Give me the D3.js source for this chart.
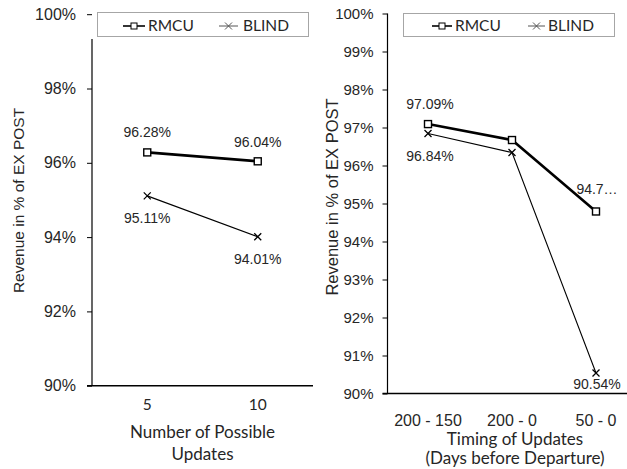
<!DOCTYPE html>
<html><head><meta charset="utf-8">
<script src="https://cdn.jsdelivr.net/npm/d3@7"></script>
<style>
html,body{margin:0;padding:0;background:#fff;}
svg{display:block;}
text{fill:#262626;}
</style></head>
<body><svg id="c" width="627" height="469"></svg>
<script>
// ---- data ----
const leftCategories = ["5", "10"];
const leftRMCU = [96.28, 96.04];
const leftBLIND = [95.11, 94.01];
const leftTicks = [90, 92, 94, 96, 98, 100];

const rightCategories = ["200 - 150", "200 - 0", "50 - 0"];
const rightRMCU = [97.09, 96.67, 94.79];
const rightBLIND = [96.84, 96.34, 90.54];
const rightTicks = [90, 91, 92, 93, 94, 95, 96, 97, 98, 99, 100];

const seriesNames = ["RMCU", "BLIND"];
const yTitle = "Revenue in % of EX POST";
const leftXTitle = ["Number of Possible", "Updates"];
const rightXTitle = ["Timing of Updates", "(Days before Departure)"];

// ---- drawing ----
const svg = d3.select("#c");
const ARIAL = "'Liberation Sans', Arial, sans-serif";
const CAL = "Lato, 'Open Sans', sans-serif";

function marker(g, type, x, y) {
  if (type === "RMCU") {
    g.append("rect").attr("x", x - 3.5).attr("y", y - 3.5).attr("width", 7).attr("height", 7)
      .attr("fill", "#fff").attr("stroke", "#000").attr("stroke-width", 1.4);
  } else {
    g.append("path").attr("d", `M${x-3.5},${y-3.5}L${x+3.5},${y+3.5}M${x-3.5},${y+3.5}L${x+3.5},${y-3.5}`)
      .attr("stroke", "#000").attr("stroke-width", 1.3);
  }
}

function legend(g, box, items) {
  g.append("rect").attr("x", box.x).attr("y", box.y).attr("width", box.w).attr("height", box.h)
    .attr("fill", "#fff").attr("stroke", "#a6a6a6").attr("stroke-width", 1);
  items.forEach(it => {
    g.append("line").attr("x1", it.x1).attr("x2", it.x2).attr("y1", box.cy).attr("y2", box.cy)
      .attr("stroke", it.name === seriesNames[0] ? "#000" : "#555").attr("stroke-width", it.name === seriesNames[0] ? 1.6 : 1);
    if (it.name === seriesNames[0]) {
      g.append("rect").attr("x", (it.x1+it.x2)/2 - 3).attr("y", box.cy - 3).attr("width", 6).attr("height", 6)
        .attr("fill", "#fff").attr("stroke", "#000").attr("stroke-width", 1);
    } else {
      const x = (it.x1+it.x2)/2, y = box.cy;
      g.append("path").attr("d", `M${x-3.5},${y-3.5}L${x+3.5},${y+3.5}M${x-3.5},${y+3.5}L${x+3.5},${y-3.5}`)
        .attr("stroke", "#555").attr("stroke-width", 1);
    }
    g.append("text").attr("x", it.tx).attr("y", box.cy).attr("dy", "0.35em")
      .attr("font-family", CAL).attr("font-size", 15.5).text(it.name);
  });
}

function panel(cfg) {
  const g = svg.append("g");
  const x = d3.scaleBand().domain(cfg.cats).range(cfg.xRange).padding(0);
  const y = d3.scaleLinear().domain([90, 100]).range(cfg.yRange);
  const cx = d => x(d) + x.bandwidth() / 2;

  // y axis
  const ya = g.append("g").attr("transform", `translate(${cfg.axisX},0)`)
    .call(d3.axisLeft(y).tickValues(cfg.ticks).tickSize(5).tickPadding(cfg.tickPad).tickFormat(d => d + "%"));
  ya.select(".domain").remove();
  ya.selectAll("text").attr("font-family", ARIAL).attr("font-size", cfg.tickFs).attr("fill", "#262626");
  ya.selectAll(".tick line").attr("stroke", "#000");
  g.append("line").attr("x1", cfg.axisX).attr("x2", cfg.axisX)
    .attr("y1", cfg.axisTop).attr("y2", cfg.yRange[0]).attr("stroke", "#000").attr("stroke-width", 1.2);

  // x axis line
  g.append("line").attr("x1", cfg.axisX - 5).attr("x2", cfg.xLineEnd)
    .attr("y1", cfg.yRange[0]).attr("y2", cfg.yRange[0]).attr("stroke", "#000").attr("stroke-width", 1.5);

  // x tick labels
  const xa = g.append("g").attr("transform", `translate(0,${cfg.yRange[0]})`)
    .call(d3.axisBottom(x).tickSize(0));
  xa.select(".domain").remove();
  xa.selectAll("text").attr("y", cfg.xLabY - cfg.yRange[0]).attr("dy", "0.35em")
    .attr("font-family", cfg.xTickFont).attr("font-size", cfg.xTickFs).attr("fill", "#262626");

  // titles
  g.append("text").attr("transform", `translate(${cfg.yTitleX},${cfg.yTitleY}) rotate(-90)`)
    .attr("text-anchor", "middle").attr("font-family", ARIAL).attr("font-size", cfg.yTitleFs).text(yTitle);
  cfg.xTitle.forEach((t, i) => {
    g.append("text").attr("x", cfg.xTitleX).attr("y", cfg.xTitleY[i]).attr("dy", "0.35em")
      .attr("text-anchor", "middle").attr("font-family", CAL).attr("font-size", cfg.xTitleFs).text(t);
  });

  // lines
  const line = d3.line().x((d, i) => cx(cfg.cats[i])).y(d => y(d));
  g.append("path").datum(cfg.blind).attr("d", line).attr("fill", "none").attr("stroke", "#000").attr("stroke-width", 1.1);
  g.append("path").datum(cfg.rmcu).attr("d", line).attr("fill", "none").attr("stroke", "#000").attr("stroke-width", 2.6);
  cfg.blind.forEach((v, i) => marker(g, "BLIND", cx(cfg.cats[i]), y(v)));
  cfg.rmcu.forEach((v, i) => marker(g, "RMCU", cx(cfg.cats[i]), y(v)));

  // data labels
  const lab = (vals, offs, texts) => vals.forEach((v, i) => {
    if (offs[i] === null) return;
    g.append("text").attr("x", cx(cfg.cats[i]) + (cfg.labDx ? cfg.labDx[i] : 0)).attr("y", y(v) + offs[i]).attr("dy", "0.35em")
      .attr("text-anchor", "middle").attr("font-family", ARIAL).attr("font-size", 14)
      .text(texts ? texts[i] : d3.format(".2f")(v) + "%");
  });
  lab(cfg.rmcu, cfg.rmcuOff, cfg.rmcuText);
  lab(cfg.blind, cfg.blindOff, null);

  legend(g, cfg.legBox, cfg.legItems);
}

panel({
  cats: leftCategories, rmcu: leftRMCU, blind: leftBLIND, ticks: leftTicks,
  xRange: [92, 313], yRange: [385.7, 14.2], axisX: 92, axisTop: 39, xLineEnd: 313,
  tickPad: 11, tickFs: 16, xLabY: 405, xTickFont: CAL, xTickFs: 15.5,
  yTitleX: 24, yTitleY: 200.5, yTitleFs: 15.5,
  xTitle: leftXTitle, xTitleX: 202.5, xTitleY: [432, 454], xTitleFs: 17,
  rmcuOff: [-20, -19], blindOff: [22, 22],
  legBox: {x: 97.5, y: 12.5, w: 211, h: 24, cy: 26},
  legItems: [{name: seriesNames[0], x1: 123, x2: 145, tx: 148}, {name: seriesNames[1], x1: 219, x2: 238, tx: 243}]
});

panel({
  cats: rightCategories, rmcu: rightRMCU, blind: rightBLIND, ticks: rightTicks,
  xRange: [386, 638], yRange: [393.5, 13.5], axisX: 387.5, axisTop: 13.5, xLineEnd: 640,
  tickPad: 9, tickFs: 15, xLabY: 420.5, xTickFont: ARIAL, xTickFs: 16,
  yTitleX: 338, yTitleY: 197, yTitleFs: 16.5,
  xTitle: rightXTitle, xTitleX: 515, xTitleY: [439, 458.5], xTitleFs: 17,
  rmcuOff: [-20, null, -22], blindOff: [23, null, 11],
  rmcuText: ["97.09%", "", "94.7\u2026"], labDx: [2, 0, 1],
  legBox: {x: 403.5, y: 13.5, w: 211, h: 23, cy: 26},
  legItems: [{name: seriesNames[0], x1: 432, x2: 452, tx: 455}, {name: seriesNames[1], x1: 528, x2: 545, tx: 548}]
});
</script></body></html>
